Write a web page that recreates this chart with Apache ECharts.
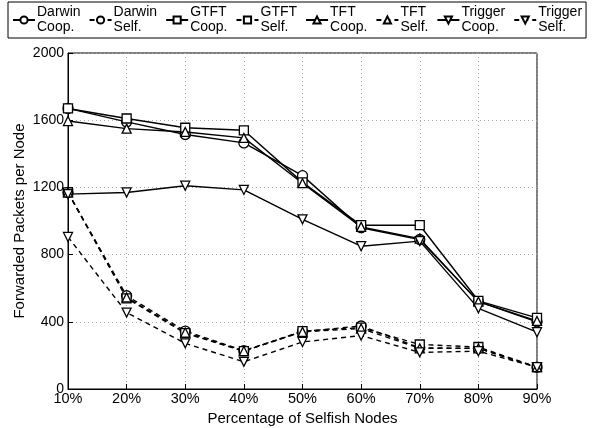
<!DOCTYPE html>
<html><head><meta charset="utf-8">
<script src="https://cdn.jsdelivr.net/npm/echarts@6/dist/echarts.min.js"></script>
<style>html,body{margin:0;padding:0;background:#fff}#c{width:594px;height:428px}</style>
</head><body><div id="c"></div>
<script>
const categories = ['10%','20%','30%','40%','50%','60%','70%','80%','90%'];
const darwinCoop  = [1670, 1590, 1515, 1465, 1270, 960, 890, 520, 400];
const darwinSelf  = [1170, 555, 345, 228, 342, 375, 245, 242, 130];
const gtftCoop    = [1670, 1610, 1555, 1540, 1230, 975, 975, 525, 423];
const gtftSelf    = [1170, 540, 332, 225, 345, 365, 265, 250, 130];
const tftCoop     = [1595, 1550, 1530, 1495, 1225, 965, 895, 520, 405];
const tftSelf     = [1170, 545, 336, 226, 340, 360, 242, 242, 130];
const triggerCoop = [1160, 1170, 1210, 1185, 1010, 850, 880, 480, 338];
const triggerSelf = [905, 455, 272, 162, 280, 318, 218, 225, 130];
const yTicks = [0, 400, 800, 1200, 1600, 2000];

const FONT = 'Liberation Sans, Arial, Helvetica, sans-serif';
const invTri = 'path://M0,0L10,0L5,9Z';
function mk(name, data, symbol, dashed) {
  return {
    name, type: 'line', data, symbol, symbolSize: symbol === 'circle' ? 10 : 9,
    showAllSymbol: true,
    lineStyle: { color: '#000', width: 1.4, type: dashed ? [5, 4] : 'solid' },
    itemStyle: { color: '#fff', borderColor: '#000', borderWidth: 1.3 },
    emphasis: { disabled: true },
    animation: false
  };
}
const series = [
  mk('Darwin\nCoop.', darwinCoop, 'circle', false),
  mk('Darwin\nSelf.', darwinSelf, 'circle', true),
  mk('GTFT\nCoop.', gtftCoop, 'rect', false),
  mk('GTFT\nSelf.', gtftSelf, 'rect', true),
  mk('TFT\nCoop.', tftCoop, 'triangle', false),
  mk('TFT\nSelf.', tftSelf, 'triangle', true),
  mk('Trigger\nCoop.', triggerCoop, invTri, false),
  mk('Trigger\nSelf.', triggerSelf, invTri, true)
];
const chart = echarts.init(document.getElementById('c'), null, { renderer: 'canvas' });
chart.setOption({
  backgroundColor: '#fff',
  textStyle: { fontFamily: FONT },
  animation: false,
  legend: {
    left: 8, top: 2, width: 590,
    borderColor: '#000', borderWidth: 1, padding: [3, 4, 3, 4],
    itemGap: 8, itemWidth: 22, itemHeight: 9,
    textStyle: { fontFamily: FONT, fontSize: 14, color: '#000', lineHeight: 15, padding: [0, 0, 0, -3] },
    data: series.map(s => s.name)
  },
  grid: { left: 68, right: 57, top: 53, bottom: 39, show: true, borderColor: '#000', borderWidth: 1,
          containLabel: false, outerBoundsMode: 'none' },
  xAxis: {
    type: 'category', data: categories, boundaryGap: false,
    name: 'Percentage of Selfish Nodes', nameLocation: 'middle', nameGap: 16,
    nameTextStyle: { fontFamily: FONT, fontSize: 15, color: '#000' },
    axisLine: { lineStyle: { color: '#000', width: 1 } },
    axisTick: { inside: true, length: 5, lineStyle: { color: '#000' } },
    axisLabel: { fontFamily: FONT, fontSize: 14.5, color: '#000', margin: 2 },
    splitLine: { show: true, lineStyle: { color: '#aaa', type: [1, 3], width: 1 } }
  },
  yAxis: {
    type: 'value', min: 0, max: 2000, interval: 400,
    name: 'Forwarded Packets per Node', nameLocation: 'middle', nameGap: 41, nameMoveOverlap: false,
    nameTextStyle: { fontFamily: FONT, fontSize: 15, color: '#000' },
    axisLine: { show: true, lineStyle: { color: '#000', width: 1 } },
    axisTick: { show: true, inside: true, length: 5, lineStyle: { color: '#000' } },
    axisLabel: { fontFamily: FONT, fontSize: 14, color: '#000', margin: 4,
      formatter: v => yTicks.includes(v) ? String(v) : '' },
    splitLine: { show: true, lineStyle: { color: '#aaa', type: [1, 3], width: 1 } }
  },
  series
});
</script></body></html>
